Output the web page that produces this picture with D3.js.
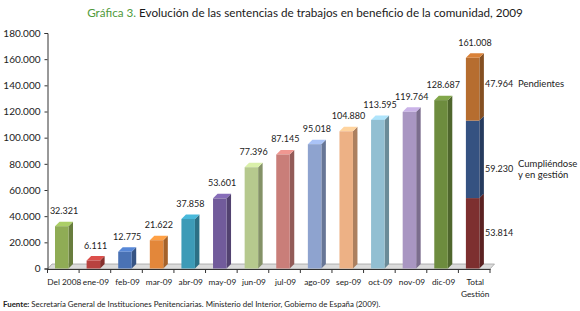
<!DOCTYPE html>
<html>
<head>
<meta charset="utf-8">
<script src="https://cdn.jsdelivr.net/npm/d3@7"></script>
<style>
  body { margin: 0; background: #fff; }
  svg text { font-family: Lato, "Open Sans", sans-serif; fill: #222; }
</style>
</head>
<body>
<svg id="chart" width="580" height="311"></svg>
<script>
// datos
const categories = ["Del 2008", "ene-09", "feb-09", "mar-09", "abr-09", "may-09", "jun-09",
  "jul-09", "ago-09", "sep-09", "oct-09", "nov-09", "dic-09", "Total Gestión"];
const monthly = [32321, 6111, 12775, 21622, 37858, 53601, 77396, 87145, 95018, 104880, 113595, 119764, 128687];
const totalParts = [
  { name: "", value: 53814 },
  { name: "Cumpliéndose|y en gestión", value: 59230 },
  { name: "Pendientes", value: 47964 }
];
const totalValue = 161008;
const yTicks = [0, 20000, 40000, 60000, 80000, 100000, 120000, 140000, 160000, 180000];
const barColors = ["#8fac55", "#b8423f", "#4a72b4", "#e3873a", "#3d9bb7", "#715b9b", "#b6c98e",
  "#c97e79", "#8ea3cf", "#edb185", "#92bfd2", "#a996c2", "#6d8c3e"];
const totalColors = ["#7d2f2f", "#355281", "#b66d2f"];

const fmt = d3.format(",d");
const fmtEs = v => fmt(v).replace(/,/g, ".");

const svg = d3.select("#chart");
const x0 = 47.5, x1 = 490, yBase = 268.5, yTop = 33;
const dx = 4.5, dy = 4.5;

const x = d3.scaleBand().domain(categories).range([x0, x1]);
const y = d3.scaleLinear().domain([0, 180000]).range([yBase, yTop]);

// título
const title = svg.append("text").attr("x", 305).attr("y", 17)
  .attr("text-anchor", "middle").style("font-size", "11.7px");
title.append("tspan").style("fill", "#4f9a3a").text("Gráfica 3. ");
title.append("tspan").style("fill", "#1a1a1a").text("Evolución de las sentencias de trabajos en beneficio de la comunidad, 2009");

// suelo 3D
svg.append("path")
  .attr("d", `M${x0},${yBase + 0.5} L${x0 + dx},${yBase - dy} L${x1 + dx},${yBase - dy} L${x1},${yBase + 0.5} Z`)
  .attr("fill", "#dcdcdc").attr("stroke", "#9a9a9a").attr("stroke-width", 0.7);

// eje y
const yAxis = svg.append("g").attr("transform", `translate(${x0},0)`)
  .call(d3.axisLeft(y).tickValues(yTicks).tickSize(3).tickPadding(4).tickFormat(fmtEs));
yAxis.select(".domain").attr("stroke", "#333");
yAxis.selectAll("line").attr("stroke", "#333");
yAxis.selectAll("text").style("font-size", "10px").style("fill", "#222");

// eje x
const xAxis = svg.append("g").attr("transform", `translate(0,${yBase + 0.5})`)
  .call(d3.axisBottom(x).tickSize(4).tickSizeOuter(0).tickFormat(""));
xAxis.select(".domain").attr("stroke", "#333");
xAxis.selectAll(".tick").remove();
const edges = categories.map(c => x(c)).concat([x1]);
xAxis.selectAll("line.edge").data(edges).enter().append("line")
  .attr("x1", d => d).attr("x2", d => d).attr("y1", 0).attr("y2", 4).attr("stroke", "#333");

categories.forEach(c => {
  const lines = c === "Total Gestión" ? ["Total", "Gestión"] : [c];
  const t = svg.append("text").attr("x", x(c) + x.bandwidth() / 2 + 1).attr("y", 285)
    .attr("text-anchor", "middle").style("font-size", "8.3px");
  lines.forEach((l, i) => t.append("tspan").attr("x", x(c) + x.bandwidth() / 2 + 1).attr("dy", i ? 11.5 : 0).text(l));
});

// barras 3D
const bw = 13.5, off = 7.5;
function bar3d(cx, yb, yt, color, drawTop) {
  const c = d3.color(color);
  const g = svg.append("g");
  g.append("path")
    .attr("d", `M${cx + bw},${yb} L${cx + bw + dx},${yb - dy} L${cx + bw + dx},${yt - dy} L${cx + bw},${yt} Z`)
    .attr("fill", c.darker(0.9));
  if (drawTop) {
    g.append("path")
      .attr("d", `M${cx},${yt} L${cx + dx},${yt - dy} L${cx + bw + dx},${yt - dy} L${cx + bw},${yt} Z`)
      .attr("fill", c.brighter(0.5));
  }
  g.append("rect").attr("x", cx).attr("y", yt).attr("width", bw).attr("height", yb - yt).attr("fill", color);
}

monthly.forEach((v, i) => {
  const cx = x(categories[i]) + off;
  bar3d(cx, y(0), y(v), barColors[i], true);
  svg.append("text").attr("x", cx + (bw + dx) / 2).attr("y", y(v) - 12)
    .attr("text-anchor", "middle").style("font-size", "9px").text(fmtEs(v));
});

// barra total apilada
const tx = x("Total Gestión") + off;
let acc = 0;
totalParts.forEach((p, i) => {
  const yb = y(acc), yt = y(acc + p.value);
  bar3d(tx, yb, yt, totalColors[i], i === totalParts.length - 1);
  acc += p.value;
});
svg.append("text").attr("x", tx + (bw + dx) / 2).attr("y", y(totalValue) - 12)
  .attr("text-anchor", "middle").style("font-size", "9px").text(fmtEs(totalValue));

// etiquetas laterales
acc = 0;
const labelX = 485;
totalParts.forEach((p, i) => {
  const ym = y(acc + p.value / 2);
  const yl = ym + [0, 10, -5][i];
  svg.append("text").attr("x", labelX).attr("y", yl + 3).style("font-size", "9px").text(fmtEs(p.value));
  if (p.name) {
    const parts = p.name.split("|");
    const t = svg.append("text").attr("x", labelX + 33).attr("y", yl + 3 - (parts.length - 1) * 5.5)
      .style("font-size", "9.5px");
    parts.forEach((l, j) => t.append("tspan").attr("x", labelX + 33).attr("dy", j ? 11 : 0).text(l));
  }
  acc += p.value;
});

// fuente
const src = svg.append("text").attr("x", 3).attr("y", 307).style("font-size", "7.9px");
src.append("tspan").style("font-weight", "bold").text("Fuente: ");
src.append("tspan").text("Secretaría General de Instituciones Penitenciarias. Ministerio del Interior, Gobierno de España (2009).");
</script>
</body>
</html>
